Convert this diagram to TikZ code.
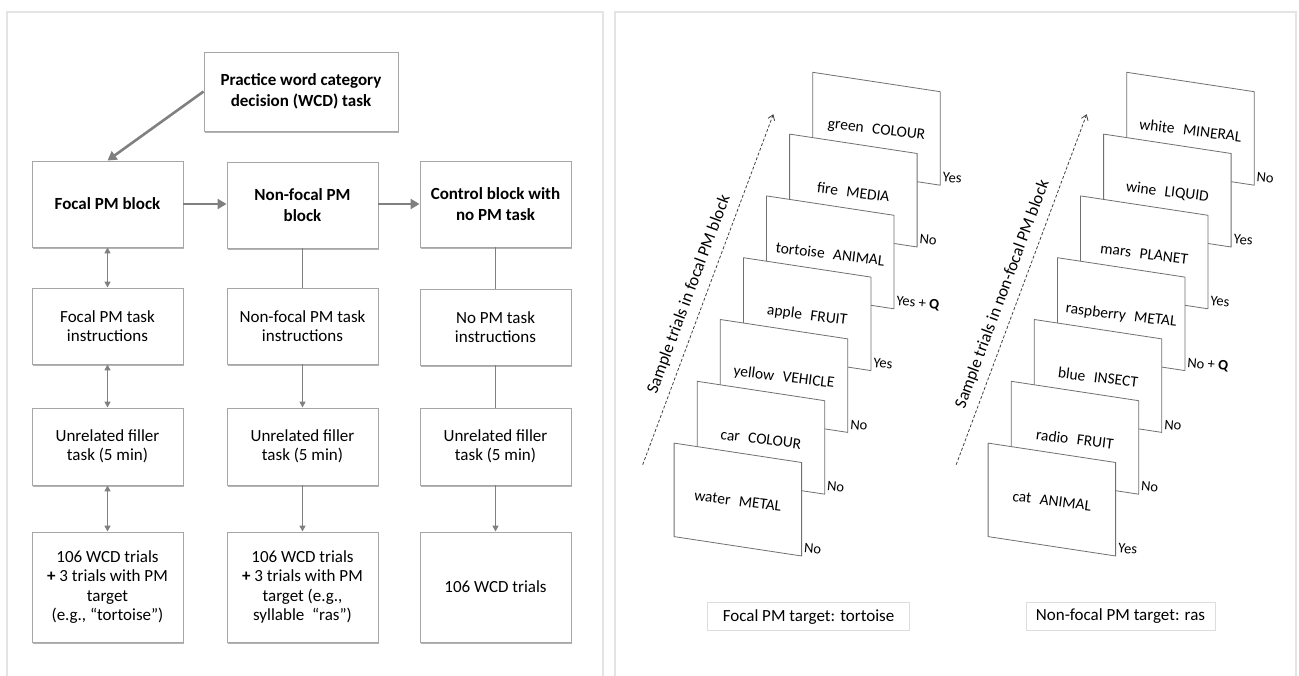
\documentclass[tikz,border=0pt]{standalone}
\usepackage{fontspec}
\setmainfont{Carlito}
\usetikzlibrary{arrows.meta,shadows}

\definecolor{boxline}{HTML}{A6A6A6}
\definecolor{arrowgray}{HTML}{808080}
\definecolor{panelline}{HTML}{E4E4E4}
\definecolor{cardline}{HTML}{707070}
\definecolor{targetline}{HTML}{DDDDDD}

\begin{document}
\begin{tikzpicture}[x=1pt, y=-1pt,
    stagebox/.style={draw=boxline, line width=0.9pt, fill=white, align=center,
      minimum width=151pt, inner sep=2pt,
      drop shadow={shadow xshift=1.2pt, shadow yshift=-2.4pt, fill=black!50, opacity=.6},
      font=\fontsize{17}{19.5}\selectfont},
    headbox/.style={stagebox, font=\fontsize{17}{20.5}\selectfont\bfseries},
    bigarrow/.style={draw=arrowgray, line width=2.6pt, -{Triangle[length=9pt,width=10pt]}},
    oneway/.style={draw=arrowgray, line width=1.6pt, -{Triangle[length=6pt,width=6pt]}},
    twoway/.style={draw=arrowgray, line width=1.6pt,
      {Triangle[length=6pt,width=6pt]}-{Triangle[length=6pt,width=6pt]}},
    link/.style={draw=arrowgray, line width=1.6pt},
    panel/.style={draw=panelline, line width=1.5pt},
    card/.style={draw=cardline, line width=0.8pt, fill=white, line join=round},
    cardtext/.style={rotate=-7, inner sep=0pt, font=\fontsize{15.5}{18}\selectfont},
    answer/.style={anchor=base west, rotate=-5, inner sep=0pt, font=\fontsize{14.5}{17}\selectfont},
    trialarrow/.style={draw=black!75, line width=0.8pt, dash pattern=on 3pt off 2pt,
      -{Straight Barb[length=5pt,width=7pt]}},
    trialtext/.style={sloped, above=5pt, font=\fontsize{17}{19}\selectfont},
    targetbox/.style={draw=targetline, line width=0.8pt, minimum height=28pt,
      inner sep=2pt, font=\fontsize{17}{19}\selectfont}]
  \useasboundingbox (0,0) rectangle (1299,676);

  % panels
  \draw[panel] (7,676) |- (603,12) -- (603,676);
  \draw[panel] (615,676) |- (1296,12) -- (1296,676);

  % left: procedure
  \node[headbox, minimum width=194pt, minimum height=79pt] (practice) at (301,91.5)
    {Practice word category\\decision (WCD) task};

  \node[headbox, minimum height=86pt] (focal) at (107.5,204) {Focal PM block};
  \node[headbox, minimum height=86pt] (nonfocal) at (302.5,205) {Non-focal PM\\block};
  \node[headbox, minimum height=86pt] (control) at (495.5,204) {Control block with\\no PM task};

  \node[stagebox, minimum height=76pt] (focalins) at (107.5,326) {Focal PM task\\instructions};
  \node[stagebox, minimum height=76pt] (nonfocalins) at (302.5,326) {Non-focal PM task\\instructions};
  \node[stagebox, minimum height=76pt] (controlins) at (495.5,327) {No PM task\\instructions};

  \node[stagebox, minimum height=77pt] (focalfill) at (107.5,446.5) {Unrelated filler\\task (5 min)};
  \node[stagebox, minimum height=77pt] (nonfocalfill) at (302.5,446.5) {Unrelated filler\\task (5 min)};
  \node[stagebox, minimum height=77pt] (controlfill) at (495.5,446.5) {Unrelated filler\\task (5 min)};

  \node[stagebox, minimum height=110pt] (focaltrials) at (107.5,587)
    {106 WCD trials\\\textbf{+} 3 trials with PM\\target\\(e.g., “tortoise”)};
  \node[stagebox, minimum height=110pt] (nonfocaltrials) at (302.5,587)
    {106 WCD trials\\\textbf{+} 3 trials with PM\\target (e.g.,\\syllable~ “ras”)};
  \node[stagebox, minimum height=110pt] (controltrials) at (495.5,587) {106 WCD trials};

  \draw[bigarrow] (practice.west) -- (focal.north);
  \draw[bigarrow] (focal.east) -- (focal.east -| nonfocal.west);
  \draw[bigarrow] (nonfocal.east |- focal.east) -- (control.west);

  \draw[twoway] (focal) -- (focalins);
  \draw[twoway] (focalins) -- (focalfill);
  \draw[twoway] (focalfill) -- (focaltrials);
  \draw[link] (nonfocal) -- (nonfocalins);
  \draw[oneway] (nonfocalins) -- (nonfocalfill);
  \draw[oneway] (nonfocalfill) -- (nonfocaltrials);
  \draw[link] (control) -- (controlins);
  \draw[link] (controlins) -- (controlfill);
  \draw[oneway] (controlfill) -- (controltrials);

  % right: sample trials, focal block
  \coordinate (fbottom) at (642.7,464.7);
  \coordinate (ftop) at (773.3,114.2);
  \draw[trialarrow] (fbottom) -- (ftop)
    node[trialtext, pos=.47] (fsample) {Sample trials in focal PM block};
  \foreach \k/\w/\c/\ans in {0/green/COLOUR/Yes, 1/fire/MEDIA/No,
      2/tortoise/ANIMAL/{Yes + \textbf{Q}}, 3/apple/FRUIT/Yes,
      4/yellow/VEHICLE/No, 5/car/COLOUR/No, 6/water/METAL/No}{
    \pgfmathsetmacro{\cx}{812.7-23.1*\k}
    \pgfmathsetmacro{\cy}{72.3+61.8*\k}
    \draw[card] (\cx,\cy) -- ++(127.5,19.4) -- ++(0,93.5) -- ++(-127.5,-19.4) -- cycle;
    \node[cardtext] (fword\k) at (\cx+63.75,\cy+58) {\w\hspace{.55em}\c};
    \node[answer] (fans\k) at (\cx+129.5,\cy+109.5) {\ans};
  }
  \node[targetbox, minimum width=202pt] (ftarget) at (808.5,616.7) {Focal PM target: tortoise};

  % right: sample trials, non-focal block
  \coordinate (nbottom) at (956.2,464.7);
  \coordinate (ntop) at (1086.7,114.2);
  \draw[trialarrow] (nbottom) -- (ntop)
    node[trialtext, pos=.47] (nsample) {Sample trials in non-focal PM block};
  \foreach \k/\w/\c/\ans in {0/white/MINERAL/No, 1/wine/LIQUID/Yes,
      2/mars/PLANET/Yes, 3/raspberry/METAL/{No + \textbf{Q}},
      4/blue/INSECT/No, 5/radio/FRUIT/No, 6/cat/ANIMAL/Yes}{
    \pgfmathsetmacro{\cx}{1126.7-23.1*\k}
    \pgfmathsetmacro{\cy}{72.3+61.8*\k}
    \draw[card] (\cx,\cy) -- ++(127.5,19.4) -- ++(0,93.5) -- ++(-127.5,-19.4) -- cycle;
    \node[cardtext] (nword\k) at (\cx+63.75,\cy+58) {\w\hspace{.55em}\c};
    \node[answer] (nans\k) at (\cx+129.5,\cy+109.5) {\ans};
  }
  \node[targetbox, minimum width=189pt] (ntarget) at (1120.5,616.3) {Non-focal PM target: ras};
\end{tikzpicture}
\end{document}
